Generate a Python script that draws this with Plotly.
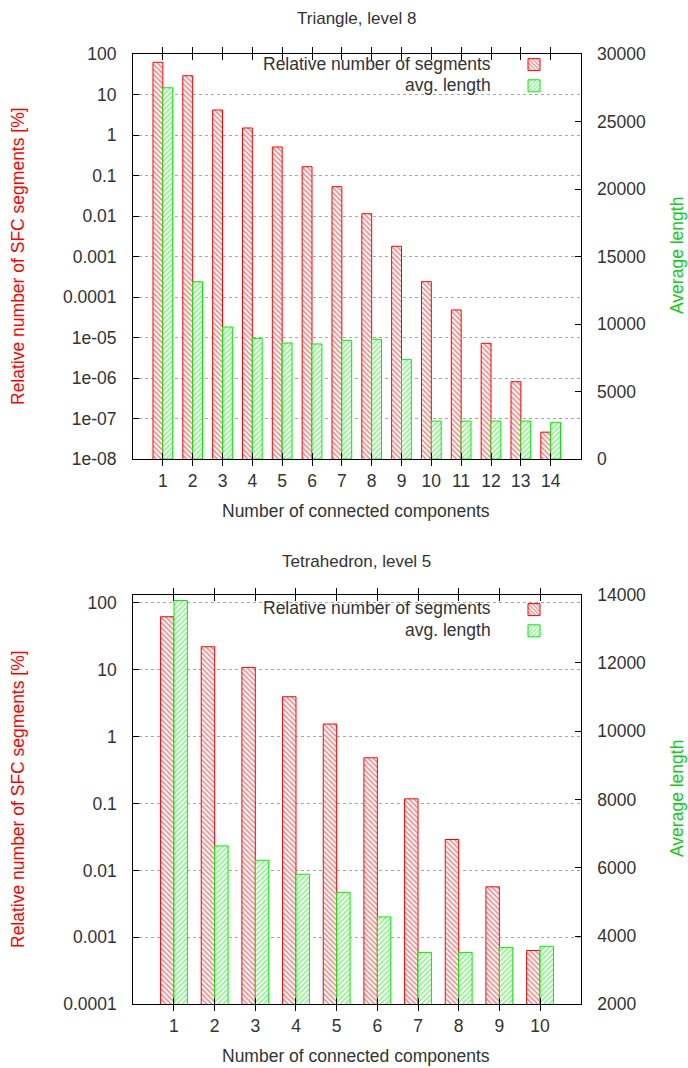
import plotly.graph_objects as go

# ---------------- data ----------------
tri_components = list(range(1, 15))
tri_rel_segments = [62.4, 29.1, 4.14, 1.49, 0.506, 0.165, 0.053, 0.0114,
                    0.00179, 2.39e-4, 4.78e-5, 7.19e-6, 8.1e-7, 4.6e-8]
tri_avg_length = [27500, 13130, 9780, 8940, 8590, 8520, 8790, 8870,
                  7360, 2810, 2810, 2810, 2810, 2720]

tet_components = list(range(1, 11))
tet_rel_segments = [61.8, 22.0, 10.8, 3.94, 1.54, 0.482, 0.1175, 0.029,
                    0.00569, 6.37e-4]
tet_avg_length = [13830, 6640, 6220, 5810, 5280, 4560, 3520, 3520, 3660, 3700]

tri_log_ticks = [1e-8, 1e-7, 1e-6, 1e-5, 1e-4, 1e-3, 1e-2, 1e-1, 1, 10, 100]
tri_log_text = ["1e-08", "1e-07", "1e-06", "1e-05", "0.0001", "0.001",
                "0.01", "0.1", "1", "10", "100"]
tet_log_ticks = [1e-4, 1e-3, 1e-2, 1e-1, 1, 10, 100]
tet_log_text = ["0.0001", "0.001", "0.01", "0.1", "1", "10", "100"]
tri_len_ticks = [0, 5000, 10000, 15000, 20000, 25000, 30000]
tet_len_ticks = [2000, 4000, 6000, 8000, 10000, 12000, 14000]

series_names = ["Relative number of segments", "avg. length"]
titles = ["Triangle, level 8", "Tetrahedron, level 5"]
x_title = "Number of connected components"
y_title = "Relative number of SFC segments [%]"
y2_title = "Average length"

# ---------------- style ----------------
W, H = 688, 1068
FONT = "Liberation Sans, Arial, sans-serif"
TXT = "#333333"
RED = "#ff0000"
GREEN = "#00ee00"
GREEN_TXT = "#11cc11"
FS = 17.5
BW = 0.33


def px(x):
    return x / W


def py(y):
    return 1 - y / H


def red_marker():
    return dict(color="white", line=dict(color=RED, width=1),
                pattern=dict(shape="\\", fgcolor=RED, bgcolor="white",
                             size=3.6, solidity=0.4))


def green_marker():
    return dict(color="white", line=dict(color=GREEN, width=1),
                pattern=dict(shape="/", fgcolor=GREEN, bgcolor="white",
                             size=3.6, solidity=0.4))


fig = go.Figure()

fig.add_trace(go.Bar(x=tri_components, y=tri_rel_segments, xaxis="x", yaxis="y",
                     width=BW, offset=-BW, marker=red_marker(), name=" ",
                     legend="legend", showlegend=True))
fig.add_trace(go.Bar(x=tri_components, y=tri_avg_length, xaxis="x", yaxis="y2",
                     width=BW, offset=0, marker=green_marker(), name=" ",
                     legend="legend", showlegend=True))
fig.add_trace(go.Bar(x=tet_components, y=tet_rel_segments, xaxis="x2", yaxis="y3",
                     width=BW, offset=-BW, marker=red_marker(), name=" ",
                     legend="legend2", showlegend=True))
fig.add_trace(go.Bar(x=tet_components, y=tet_avg_length, xaxis="x2", yaxis="y4",
                     width=BW, offset=0, marker=green_marker(), name=" ",
                     legend="legend2", showlegend=True))

tickfont = dict(family=FONT, size=FS, color=TXT)

common_x = dict(showgrid=False, zeroline=False, showline=True, linecolor="#000000",
                linewidth=1, mirror="allticks", ticks="inside", ticklen=6,
                tickcolor="#000000", tickfont=tickfont, tickmode="array",
                ticklabelstandoff=6, automargin=False)
common_yl = dict(type="log", showgrid=True, gridcolor="#a8a8a8", griddash="dot",
                 gridwidth=1, zeroline=False, showline=True, linecolor="#000000",
                 linewidth=1, ticks="inside", ticklen=6, tickcolor="#000000",
                 tickfont=tickfont, tickmode="array", ticklabelstandoff=12,
                 automargin=False)
common_yr = dict(showgrid=False, zeroline=False, showline=True, linecolor="#000000",
                 linewidth=1, ticks="inside", ticklen=6, tickcolor="#000000",
                 tickfont=tickfont, tickmode="array", side="right",
                 ticklabelstandoff=12, automargin=False)

top_dom_x = [px(133), px(580.5)]
top_dom_y = [py(459), py(54)]
bot_dom_x = [px(133.3), px(580.7)]
bot_dom_y = [py(1004.3), py(594.7)]

legend_style = dict(xanchor="left", yanchor="middle", bgcolor="rgba(0,0,0,0)",
                    borderwidth=0, tracegroupgap=0,
                    font=dict(family=FONT, size=14), itemwidth=30)

fig.update_layout(
    width=W, height=H, margin=dict(l=0, r=0, t=0, b=0, autoexpand=False),
    paper_bgcolor="white", plot_bgcolor="white",
    barmode="overlay",
    font=dict(family=FONT, size=FS, color=TXT),
    xaxis=dict(domain=top_dom_x, range=[0, 15], anchor="y",
               tickvals=tri_components, **common_x),
    yaxis=dict(domain=top_dom_y, range=[-8, 2], anchor="x",
               tickvals=tri_log_ticks, ticktext=tri_log_text, **common_yl),
    yaxis2=dict(range=[0, 30000], anchor="x", overlaying="y",
                tickvals=tri_len_ticks, ticktext=[str(v) for v in tri_len_ticks],
                **common_yr),
    xaxis2=dict(domain=bot_dom_x, range=[0, 11], anchor="y3",
                tickvals=tet_components, **common_x),
    yaxis3=dict(domain=bot_dom_y, range=[-4, 2.12], anchor="x2",
                tickvals=tet_log_ticks, ticktext=tet_log_text, **common_yl),
    yaxis4=dict(range=[2000, 14000], anchor="x2", overlaying="y3",
                tickvals=tet_len_ticks, ticktext=[str(v) for v in tet_len_ticks],
                **common_yr),
    legend=dict(x=px(514), y=py(75.5), **legend_style),
    legend2=dict(x=px(514), y=py(620.5), **legend_style),
)

ann = []
# titles
ann.append(dict(text=titles[0], x=px(356), y=py(19), xref="paper", yref="paper",
                showarrow=False, font=dict(size=17, color=TXT), xanchor="center", yanchor="middle"))
ann.append(dict(text=titles[1], x=px(356), y=py(561), xref="paper", yref="paper",
                showarrow=False, font=dict(size=17, color=TXT), xanchor="center", yanchor="middle"))
# x titles
for yc in (511, 1056):
    ann.append(dict(text=x_title, x=px(356), y=py(yc), xref="paper", yref="paper",
                    showarrow=False, font=dict(size=FS, color=TXT), xanchor="center", yanchor="middle"))
# y titles
for yc in (256, 799):
    ann.append(dict(text=y_title, x=px(18), y=py(yc), xref="paper", yref="paper",
                    showarrow=False, textangle=-90, font=dict(size=FS, color=RED),
                    xanchor="center", yanchor="middle"))
    ann.append(dict(text=y2_title, x=px(677), y=py(yc), xref="paper", yref="paper",
                    showarrow=False, textangle=-90, font=dict(size=FS, color=GREEN_TXT),
                    xanchor="center", yanchor="middle"))
# legend labels (gnuplot style: text left of the sample)
for (y1, y2) in ((64, 85), (608, 630)):
    ann.append(dict(text=series_names[0], x=px(493), y=py(y1), xref="paper", yref="paper",
                    showarrow=False, font=dict(size=FS, color=TXT), xanchor="right", yanchor="middle"))
    ann.append(dict(text=series_names[1], x=px(493), y=py(y2), xref="paper", yref="paper",
                    showarrow=False, font=dict(size=FS, color=TXT), xanchor="right", yanchor="middle"))
fig.update_layout(annotations=ann)

# the page's default 8px body margin would shift the fixed-size figure
fig.write_html("out.html", config={"displayModeBar": False},
               post_script="document.body.style.margin='0';document.body.style.overflow='hidden';")
